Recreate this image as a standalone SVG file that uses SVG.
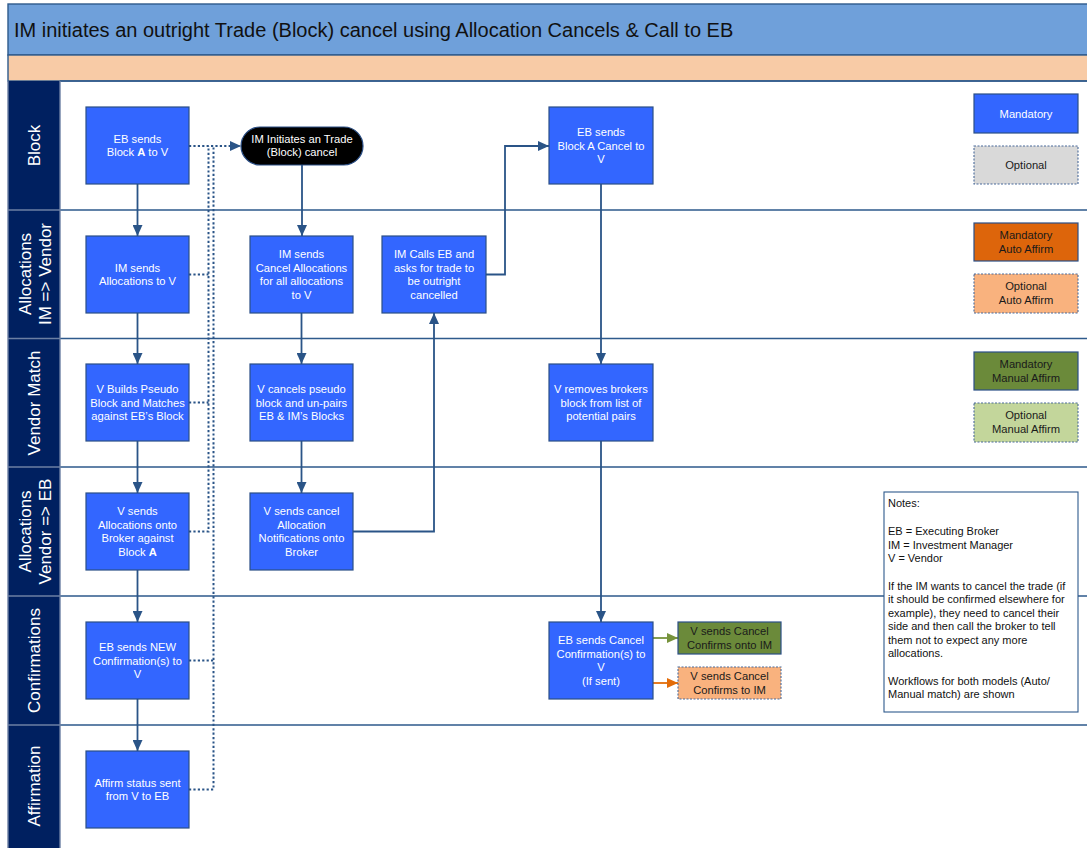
<svg xmlns="http://www.w3.org/2000/svg" width="1087" height="848" viewBox="0 0 1087 848">
<defs>
<style>
.lane{stroke:#2E5A8C;stroke-width:1.6;fill:none}
.hsep{stroke:#6C7FA3;stroke-width:1.4;fill:none}
.lbl{font-family:"Liberation Sans",Arial,sans-serif;font-size:17px;fill:#FFFFFF;text-anchor:middle}
.node{fill:#3366FF;stroke:#2B4F86;stroke-width:1.2}
.nt{font-family:"Liberation Sans",Arial,sans-serif;font-size:11.2px;fill:#FFFFFF;text-anchor:middle}
.dt{font-family:"Liberation Sans",Arial,sans-serif;font-size:11.2px;fill:#1A1A1A;text-anchor:middle}
.conn{stroke:#2A5487;stroke-width:1.8;fill:none}
.dot{stroke:#2A5487;stroke-width:2;fill:none;stroke-dasharray:2.2,2.2}
.dash{stroke:#4A6A9A;stroke-width:1.1;stroke-dasharray:2,1.5}
.notes{font-family:"Liberation Sans",Arial,sans-serif;font-size:11px;fill:#111111}
</style>
<marker id="ah" viewBox="0 0 11 10" refX="11" refY="5" markerWidth="11" markerHeight="10" markerUnits="userSpaceOnUse" orient="auto">
<path d="M0,0 L11,5 L0,10 Z" fill="#2A5487"/>
</marker>
<marker id="ahg" viewBox="0 0 11 10" refX="11" refY="5" markerWidth="11" markerHeight="10" markerUnits="userSpaceOnUse" orient="auto">
<path d="M0,0 L11,5 L0,10 Z" fill="#77933C"/>
</marker>
<marker id="aho" viewBox="0 0 11 10" refX="11" refY="5" markerWidth="11" markerHeight="10" markerUnits="userSpaceOnUse" orient="auto">
<path d="M0,0 L11,5 L0,10 Z" fill="#E36C09"/>
</marker>
</defs>
<rect x="0" y="0" width="1087" height="848" fill="#FFFFFF"/>
<g id="title">
<rect x="8" y="4" width="1084" height="51" fill="#6FA0DA" stroke="#2E5A8C" stroke-width="1.4"/>
<rect x="8" y="55" width="1084" height="26" fill="#F8CBA6" stroke="#2E5A8C" stroke-width="1.4"/>
<text x="14" y="36.5" style="font-family:'Liberation Sans',Arial,sans-serif;font-size:20px;fill:#111111">IM initiates an outright Trade (Block) cancel using Allocation Cancels &amp; Call to EB</text>
</g>
<g id="lanes">
<rect x="8" y="81" width="52" height="767" fill="#002060"/>
<path class="lane" d="M60,81 H1087 M60,210 H1087 M60,338.5 H1087 M60,467 H1087 M60,596 H1087 M60,725 H1087"/>
<path class="hsep" d="M8,81 V848 M60,81 V848 M8,210 H60 M8,338.5 H60 M8,467 H60 M8,596 H60 M8,725 H60"/>
<text class="lbl" transform="translate(34,145.5) rotate(-90)" y="6">Block</text>
<text class="lbl" transform="translate(34,274) rotate(-90)"><tspan x="0" y="-3.5">Allocations</tspan><tspan x="0" y="16.5">IM =&gt; Vendor</tspan></text>
<text class="lbl" transform="translate(34,403) rotate(-90)" y="6">Vendor Match</text>
<text class="lbl" transform="translate(34,531.5) rotate(-90)"><tspan x="0" y="-3.5">Allocations</tspan><tspan x="0" y="16.5">Vendor =&gt; EB</tspan></text>
<text class="lbl" transform="translate(34,660.5) rotate(-90)" y="6">Confirmations</text>
<text class="lbl" transform="translate(34,786) rotate(-90)" y="6">Affirmation</text>
</g>
<g id="connectors">
<path class="conn" d="M137.5,184 V236" marker-end="url(#ah)"/>
<path class="conn" d="M137.5,313 V364" marker-end="url(#ah)"/>
<path class="conn" d="M137.5,441 V493" marker-end="url(#ah)"/>
<path class="conn" d="M137.5,570 V622" marker-end="url(#ah)"/>
<path class="conn" d="M137.5,699 V751" marker-end="url(#ah)"/>
<path class="conn" d="M302,165 V236" marker-end="url(#ah)"/>
<path class="conn" d="M301.5,313 V364" marker-end="url(#ah)"/>
<path class="conn" d="M301.5,441 V493" marker-end="url(#ah)"/>
<path class="conn" d="M486,274.5 H505 V146 H549" marker-end="url(#ah)"/>
<path class="conn" d="M353,531.5 H434 V313" marker-end="url(#ah)"/>
<path class="conn" d="M601,184 V364" marker-end="url(#ah)"/>
<path class="conn" d="M601,441 V622" marker-end="url(#ah)"/>
<path d="M653,638 H678" stroke="#77933C" stroke-width="1.8" fill="none" marker-end="url(#ahg)"/>
<path d="M653,683 H678" stroke="#E36C09" stroke-width="1.8" fill="none" marker-end="url(#aho)"/>
<path class="dot" d="M189,146 H241" marker-end="url(#ah)"/>
<path class="dot" d="M189,274.5 H208.5 M189,402.5 H208.5 M189,531.5 H208.5 V146"/>
<path class="dot" d="M189,660.5 H213.5 M189,789.5 H213.5 V147"/>
</g>
<g id="n_eb_block">
<rect class="node" x="86" y="107" width="103" height="77"/>
<text class="nt"><tspan x="137.5" y="142.5">EB sends</tspan><tspan x="137.5" y="156.4">Block <tspan font-weight="bold">A</tspan> to V</tspan></text>
</g>
<g id="n_im_initiates">
<rect x="241" y="127" width="122" height="38" rx="19" fill="#000000" stroke="#2B4F86" stroke-width="1.2"/>
<text class="nt"><tspan x="302" y="142.5">IM Initiates an Trade</tspan><tspan x="302" y="156.4">(Block) cancel</tspan></text>
</g>
<g id="n_eb_cancel">
<rect class="node" x="549" y="107" width="104" height="77"/>
<text class="nt"><tspan x="601" y="135.6">EB sends</tspan><tspan x="601" y="149.5">Block A Cancel to</tspan><tspan x="601" y="163.4">V</tspan></text>
</g>
<g id="n_im_alloc">
<rect class="node" x="86" y="236" width="103" height="77"/>
<text class="nt"><tspan x="137.5" y="271.5">IM sends</tspan><tspan x="137.5" y="285.4">Allocations to V</tspan></text>
</g>
<g id="n_im_cancel_alloc">
<rect class="node" x="250" y="236" width="103" height="77"/>
<text class="nt"><tspan x="301.5" y="257.6">IM sends</tspan><tspan x="301.5" y="271.5">Cancel Allocations</tspan><tspan x="301.5" y="285.4">for all allocations</tspan><tspan x="301.5" y="299.3">to V</tspan></text>
</g>
<g id="n_im_calls">
<rect class="node" x="382" y="236" width="104" height="77"/>
<text class="nt"><tspan x="434" y="257.6">IM Calls EB and</tspan><tspan x="434" y="271.5">asks for trade to</tspan><tspan x="434" y="285.4">be outright</tspan><tspan x="434" y="299.3">cancelled</tspan></text>
</g>
<g id="n_v_builds">
<rect class="node" x="86" y="364" width="103" height="77"/>
<text class="nt"><tspan x="137.5" y="392.6">V Builds Pseudo</tspan><tspan x="137.5" y="406.5">Block and Matches</tspan><tspan x="137.5" y="420.4">against EB’s Block</tspan></text>
</g>
<g id="n_v_cancels">
<rect class="node" x="250" y="364" width="103" height="77"/>
<text class="nt"><tspan x="301.5" y="392.6">V cancels pseudo</tspan><tspan x="301.5" y="406.5">block and un-pairs</tspan><tspan x="301.5" y="420.4">EB &amp; IM’s Blocks</tspan></text>
</g>
<g id="n_v_removes">
<rect class="node" x="549" y="364" width="104" height="77"/>
<text class="nt"><tspan x="601" y="392.6">V removes brokers</tspan><tspan x="601" y="406.5">block from list of</tspan><tspan x="601" y="420.4">potential pairs</tspan></text>
</g>
<g id="n_v_sends_alloc">
<rect class="node" x="86" y="493" width="103" height="77"/>
<text class="nt"><tspan x="137.5" y="514.6">V sends</tspan><tspan x="137.5" y="528.5">Allocations onto</tspan><tspan x="137.5" y="542.4">Broker against</tspan><tspan x="137.5" y="556.3">Block <tspan font-weight="bold">A</tspan></tspan></text>
</g>
<g id="n_v_sends_cancel_alloc">
<rect class="node" x="250" y="493" width="103" height="77"/>
<text class="nt"><tspan x="301.5" y="514.6">V sends cancel</tspan><tspan x="301.5" y="528.5">Allocation</tspan><tspan x="301.5" y="542.4">Notifications onto</tspan><tspan x="301.5" y="556.3">Broker</tspan></text>
</g>
<g id="n_eb_new_conf">
<rect class="node" x="86" y="622" width="103" height="77"/>
<text class="nt"><tspan x="137.5" y="650.6">EB sends NEW</tspan><tspan x="137.5" y="664.5">Confirmation(s) to</tspan><tspan x="137.5" y="678.4">V</tspan></text>
</g>
<g id="n_eb_cancel_conf">
<rect class="node" x="549" y="622" width="104" height="77"/>
<text class="nt"><tspan x="601" y="643.6">EB sends Cancel</tspan><tspan x="601" y="657.5">Confirmation(s) to</tspan><tspan x="601" y="671.4">V</tspan><tspan x="601" y="685.3">(If sent)</tspan></text>
</g>
<g id="n_v_cancel_onto_im">
<rect x="678" y="622" width="103" height="32" fill="#6B8A3A" stroke="#2B4F86" stroke-width="1.2"/>
<text class="dt"><tspan x="729.5" y="635">V sends Cancel</tspan><tspan x="729.5" y="648.9">Confirms onto IM</tspan></text>
</g>
<g id="n_v_cancel_to_im">
<rect x="678" y="667" width="103" height="32" fill="#F9B27E" class="dash" style="stroke-width:1.1"/>
<text class="dt"><tspan x="729.5" y="680">V sends Cancel</tspan><tspan x="729.5" y="693.9">Confirms to IM</tspan></text>
</g>
<g id="n_affirm">
<rect class="node" x="86" y="751" width="103" height="77"/>
<text class="nt"><tspan x="137.5" y="786.5">Affirm status sent</tspan><tspan x="137.5" y="800.4">from V to EB</tspan></text>
</g>
<g id="legend">
<rect class="node" x="974" y="94" width="104" height="39"/>
<text class="nt" x="1026" y="117.5">Mandatory</text>
<rect x="974" y="146" width="104" height="38" fill="#D9D9D9" class="dash"/>
<text class="dt" x="1026" y="169">Optional</text>
<rect x="974" y="223" width="104" height="38" fill="#DD650B" stroke="#2B4F86" stroke-width="1.2"/>
<text class="dt"><tspan x="1026" y="239">Mandatory</tspan><tspan x="1026" y="252.9">Auto Affirm</tspan></text>
<rect x="974" y="274" width="104" height="39" fill="#F9B27E" class="dash"/>
<text class="dt"><tspan x="1026" y="290">Optional</tspan><tspan x="1026" y="303.9">Auto Affirm</tspan></text>
<rect x="974" y="352" width="104" height="38" fill="#6B8A3A" stroke="#2B4F86" stroke-width="1.2"/>
<text class="dt"><tspan x="1026" y="368">Mandatory</tspan><tspan x="1026" y="381.9">Manual Affirm</tspan></text>
<rect x="974" y="403" width="104" height="39" fill="#C3D69B" class="dash"/>
<text class="dt"><tspan x="1026" y="419">Optional</tspan><tspan x="1026" y="432.9">Manual Affirm</tspan></text>
</g>
<g id="notes">
<rect x="884" y="492" width="194" height="220" fill="#FFFFFF" stroke="#2E5A8C" stroke-width="1.1"/>
<text class="notes">
<tspan x="888" y="507">Notes:</tspan>
<tspan x="888" y="535">EB = Executing Broker</tspan>
<tspan x="888" y="548.5">IM = Investment Manager</tspan>
<tspan x="888" y="562">V = Vendor</tspan>
<tspan x="888" y="589.5">If the IM wants to cancel the trade (if</tspan>
<tspan x="888" y="603">it should be confirmed elsewhere for</tspan>
<tspan x="888" y="616.5">example), they need to cancel their</tspan>
<tspan x="888" y="630">side and then call the broker to tell</tspan>
<tspan x="888" y="643.5">them not to expect any more</tspan>
<tspan x="888" y="657">allocations.</tspan>
<tspan x="888" y="684.5">Workflows for both models (Auto/</tspan>
<tspan x="888" y="698">Manual match) are shown</tspan>
</text>
</g>
</svg>
